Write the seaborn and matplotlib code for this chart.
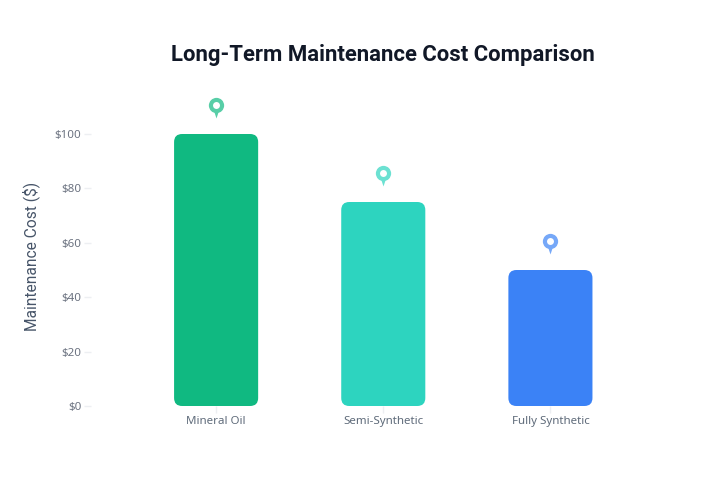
import pandas as pd
import seaborn as sns
import matplotlib
matplotlib.use('Agg')
import matplotlib.pyplot as plt
from matplotlib.patches import FancyBboxPatch
from matplotlib.transforms import ScaledTranslation

categorias = ['Mineral Oil', 'Semi-Synthetic', 'Fully Synthetic']
custos = [100, 75, 50]
cores = ['#10B981', '#2DD4BF', '#3B82F6']
cores_pino = ['#58CEA7', '#6CE1D2', '#76A8F8']
y_ticks = [0, 20, 40, 60, 80, 100]
y_labels = ['$0', '$20', '$40', '$60', '$80', '$100']

W, H = 711, 480
sns.set_theme(style='white')
plt.rcParams['font.family'] = ['Noto Sans', 'DejaVu Sans']

df = pd.DataFrame({'categoria': categorias, 'custo': custos})

fig = plt.figure(figsize=(W / 100, H / 100), dpi=100)
# eixos em pixels: esquerda 91, direita 634, base 406, topo 79.6
ax = fig.add_axes([91 / W, (H - 406) / H, 543 / W, 326.4 / H])

sns.barplot(data=df, x='categoria', y='custo', hue='categoria', palette=cores,
            width=84 / 167, saturation=1, legend=False, ax=ax)

ax.set_xlim(-125 / 167, 2.5)
ax.set_ylim(0, 120)

# px por unidade, para os cantos redondos
px_x = 167
px_y = 2.72
raio = 8 / px_x

for barra, cor in zip(list(ax.patches), cores):
    x0, y0 = barra.get_x(), barra.get_y()
    w, h = barra.get_width(), barra.get_height()
    barra.remove()
    ax.add_patch(FancyBboxPatch((x0, y0), w, h,
                                boxstyle=f'round,pad=0,rounding_size={raio}',
                                mutation_aspect=px_x / px_y,
                                facecolor=cor, edgecolor='none', zorder=2))

# marcadores em forma de pino acima das barras
def pino(dy_px):
    return ax.transData + ScaledTranslation(0, dy_px / 100, fig.dpi_scale_trans)

cauda = [(-1, 0), (1, 0), (0, -3)]

for i, (valor, cor) in enumerate(zip(custos, cores_pino)):
    ax.plot(i, valor, marker=cauda, ms=8.6, color=cor, mew=0, clip_on=False,
            transform=pino(22), zorder=3)
    ax.plot(i, valor, marker='o', ms=11, color=cor, mew=0, clip_on=False,
            transform=pino(29), zorder=4)
    ax.plot(i, valor, marker='o', ms=5, color='white', mew=0, clip_on=False,
            transform=pino(29), zorder=5)

ax.set_yticks(y_ticks)
ax.set_yticklabels(y_labels)
sns.despine(ax=ax, left=True, bottom=True, top=True, right=True)
ax.tick_params(axis='y', length=5, width=1, color='#EDEFF2', pad=2,
               labelsize=8.3, labelcolor='#6B7280', left=True)
ax.tick_params(axis='x', length=5, width=1, color='#EDEFF2', pad=2,
               labelsize=8.3, labelcolor='#5F6B7A', bottom=True)
ax.set_xlabel('')
ax.set_ylabel('')
ax.grid(False)

fig.text(383 / W, 1 - 55 / H, 'Long-Term Maintenance Cost Comparison',
         family='Roboto', fontsize=15.9, fontweight='bold', color='#111827',
         ha='center', va='center')
fig.text(31 / W, 1 - 256 / H, 'Maintenance Cost ($)', family='Roboto',
         fontsize=11.2, color='#475569', rotation=90, ha='center', va='center')

fig.savefig('out.png', dpi=100)
